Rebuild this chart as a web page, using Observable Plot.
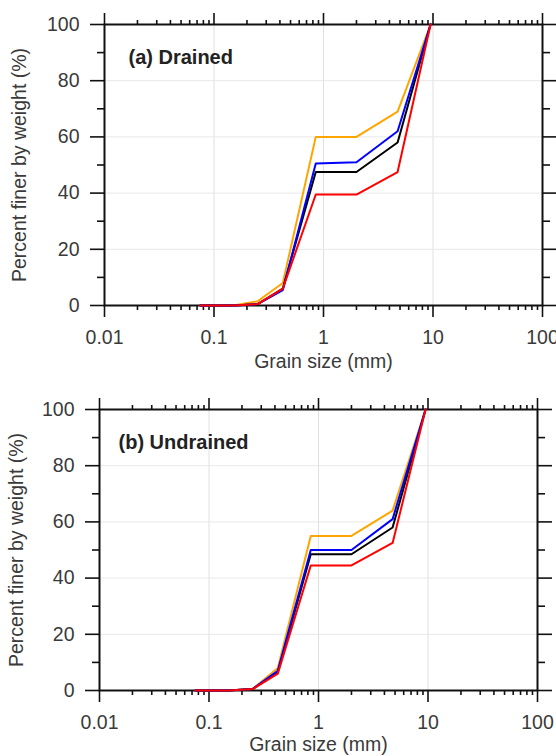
<!DOCTYPE html>
<html>
<head>
<meta charset="utf-8">
<script src="https://cdn.jsdelivr.net/npm/d3@7"></script>
<script src="https://cdn.jsdelivr.net/npm/@observablehq/plot@0.6"></script>
<style>
  html, body { margin: 0; padding: 0; background: #fff; }
  #chart svg { display: block; }
</style>
</head>
<body>
<div id="chart"></div>
<script>
// Sieve sizes (mm)
const sizes = [0.075, 0.15, 0.25, 0.425, 0.85, 2.0, 4.75, 9.5];
const seriesNames = ["orange", "black", "blue", "red"];
const seriesColors = ["#f08a3e", "#111111", "#2424dc", "#e8242c"];

// (a) Drained — percent finer by weight
const drainedOrange = [0, 0, 1.5, 8, 60, 60, 69, 100];
const drainedBlack  = [0, 0, 0.5, 6, 47.5, 47.5, 58, 100];
const drainedBlue   = [0, 0, 0.5, 5.5, 50.5, 51, 62, 100];
const drainedRed    = [0, 0, 0.5, 6, 39.5, 39.5, 47.5, 100];

// (b) Undrained — percent finer by weight
const undrainedOrange = [0, 0, 0.5, 8, 55, 55, 64, 100];
const undrainedBlack  = [0, 0, 0.5, 6.5, 48.5, 48.5, 58, 100];
const undrainedBlue   = [0, 0, 0.5, 7, 50, 50, 61, 100];
const undrainedRed    = [0, 0, 0.5, 6, 44.5, 44.5, 52.5, 100];

// Axis ticks
const xMajor = [0.01, 0.1, 1, 10, 100];
const xMajorLabels = ["0.01", "0.1", "1", "10", "100"];
const xMinor = [];
for (const dec of [0.01, 0.1, 1, 10]) for (let k = 2; k <= 9; k++) xMinor.push(+(dec * k).toPrecision(3));
const yMajor = [0, 20, 40, 60, 80, 100];
const yMinor = [10, 30, 50, 70, 90];
const yGrid = [20, 40, 60, 80];
const xGrid = [0.1, 1, 10];

const panelTitles = ["(a) Drained", "(b) Undrained"];
const xLabel = "Grain size (mm)";
const yLabel = "Percent finer by weight (%)";

function toRows(arrays) {
  const rows = [];
  arrays.forEach((vals, i) => {
    vals.forEach((v, j) => rows.push({series: seriesNames[i], size: sizes[j], pct: v}));
  });
  return rows;
}

function panel(rows, title, geom) {
  const axisStyle = {stroke: "#111", strokeWidth: 1.6};
  return Plot.plot({
    width: 556,
    height: geom.height,
    marginLeft: geom.left,
    marginRight: geom.right,
    marginTop: geom.top,
    marginBottom: geom.bottom,
    style: {fontFamily: "'Liberation Sans', Arial, sans-serif", fontSize: "19.5px", color: "#3a3a3a", background: "#fff"},
    x: {type: "log", domain: [0.01, 100]},
    y: {domain: [0, 100]},
    color: {domain: seriesNames, range: seriesColors},
    marks: [
      Plot.gridX(xGrid, {stroke: "#e0e0e0", strokeOpacity: 1, strokeWidth: 1}),
      Plot.gridY(yGrid, {stroke: "#e8e8e8", strokeOpacity: 1, strokeWidth: 1}),
      // bottom axis
      Plot.axisX(xMinor, {anchor: "bottom", tickSize: 5, tickFormat: () => "", label: null, ...axisStyle}),
      Plot.axisX(xMajor, {anchor: "bottom", tickSize: 12, tickPadding: 13, tickFormat: (d) => xMajorLabels[xMajor.indexOf(d)],
        label: xLabel, labelAnchor: "center", labelOffset: geom.xLabelOffset, labelArrow: "none", ...axisStyle, fill: "#3a3a3a"}),
      // top axis
      Plot.axisX(xMinor, {anchor: "top", tickSize: 5, tickFormat: () => "", label: null, ...axisStyle}),
      Plot.axisX(xMajor, {anchor: "top", tickSize: 12, tickFormat: () => "", label: null, ...axisStyle}),
      // left axis
      Plot.axisY(yMinor, {anchor: "left", tickSize: 7, tickFormat: () => "", label: null, ...axisStyle}),
      Plot.axisY(yMajor, {anchor: "left", tickSize: 14, tickPadding: 11,
        label: yLabel, labelAnchor: "center", labelOffset: geom.yLabelOffset, labelArrow: "none", ...axisStyle, fill: "#3a3a3a"}),
      // right axis
      Plot.axisY(yMinor, {anchor: "right", tickSize: 7, tickFormat: () => "", label: null, ...axisStyle}),
      Plot.axisY(yMajor, {anchor: "right", tickSize: 14, tickFormat: () => "", label: null, ...axisStyle}),
      Plot.frame({stroke: "#111", strokeWidth: 2}),
      Plot.line(rows, {x: "size", y: "pct", z: "series", stroke: "series", strokeWidth: 2}),
      Plot.text([title], {frameAnchor: "top-left", dx: geom.titleDx, dy: 33, textAnchor: "start", lineAnchor: "middle",
        fontWeight: "bold", fontSize: 20, fill: "#222"})
    ]
  });
}

const chart = document.getElementById("chart");
chart.append(panel(toRows([drainedOrange, drainedBlack, drainedBlue, drainedRed]), panelTitles[0],
  {height: 380, left: 104, right: 14, top: 24, bottom: 75, xLabelOffset: 62, yLabelOffset: 92, titleDx: 24}));
chart.append(panel(toRows([undrainedOrange, undrainedBlack, undrainedBlue, undrainedRed]), panelTitles[1],
  {height: 376, left: 99, right: 19, top: 29, bottom: 66, xLabelOffset: 60, yLabelOffset: 90, titleDx: 19}));
</script>
</body>
</html>
